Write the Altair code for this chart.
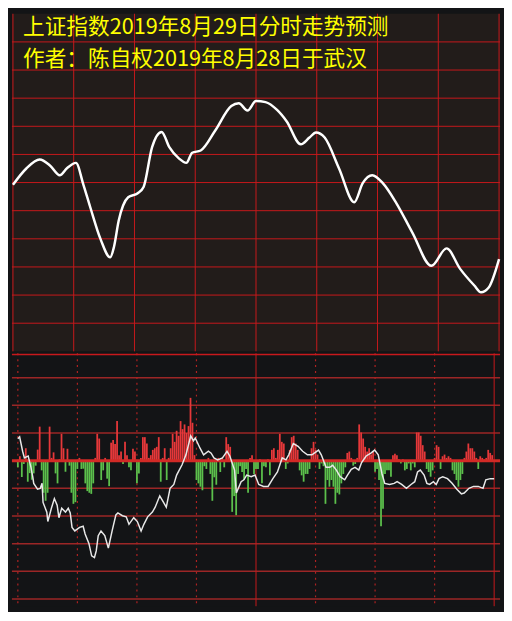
import altair as alt
import pandas as pd

# ---------------- data ----------------
title_lines = ["上证指数2019年8月29日分时走势预测", "作者：陈自权2019年8月28日于武汉"]
title_minute = [5.0]
title_price = [2919.45]

# predicted index path (minute of session, index level)
price_minutes = [0, 6.6, 13.2, 18.4, 23.1, 26.8, 31.1, 34.8, 38.1, 43.3, 48.0, 49.9, 52.2,
                 56.9, 61.6, 64.5, 68.7, 73.4, 77.2, 81.9, 85.6, 88.5, 92.7, 99.8, 107.8,
                 111.5, 115.8, 120.0, 124.7, 130.4, 135.1, 142.1, 146.4, 149.6, 153.9,
                 161.0, 168.5, 172.7, 177.4, 182.6, 189.2, 197.2, 206.6, 214.1, 220.7,
                 227.8, 231.1, 234.8, 240.0]
price_values = [2889.6, 2892.5, 2894.1, 2893.0, 2891.3, 2892.6, 2893.5, 2889.6, 2885.7,
                2879.9, 2876.7, 2878.6, 2883.2, 2887.4, 2888.1, 2889.2, 2896.3, 2899.0,
                2896.3, 2894.3, 2893.5, 2895.3, 2895.7, 2899.2, 2903.6, 2904.1, 2902.8,
                2904.5, 2904.3, 2902.9, 2900.9, 2896.8, 2898.0, 2898.9, 2898.0, 2892.5,
                2886.5, 2889.9, 2891.3, 2889.9, 2886.4, 2881.1, 2875.2, 2878.3, 2874.7,
                2871.7, 2870.5, 2871.3, 2876.4]

# per-minute red/green bars (minute 0..239)
bar_values = [
    -2.4, 1.6, -5.9, -1.2, 4.5, -7.6, -4.5, -6.9, -4.6, -1.8,
    4.0, 12.3, -3.5, -11.6, -14.5, -11.6, 12.3, 1.0, 3.0, -4.6,
    -8.2, 0.5, 9.7, 4.5, -4.0, 4.3, -1.8, -11.6, -15.6, -15.0,
    -3.0, 1.0, -3.0, -2.9, -8.2, -11.0, -11.6, -12.0, -8.2, 1.0,
    9.7, 8.0, -7.0, -3.5, 1.0, -6.5, -9.2, 6.5, 7.5, 6.0,
    14.3, 2.0, 3.3, -1.2, 6.8, 2.0, -2.4, -3.5, 4.3, 3.3,
    -8.2, -4.6, 1.0, 8.5, 8.5, 6.2, 1.0, 2.0, 3.9, 4.5,
    5.0, 8.5, -7.6, 1.0, 4.5, -7.0, 1.0, 4.5, 9.7, 6.8,
    10.8, 9.0, 14.3, 11.4, 13.1, 10.0, 12.5, 22.7, 13.7, 2.0,
    -7.0, -8.2, -9.4, -10.7, -2.0, -3.0, 1.0, -4.8, -14.5, -6.0,
    -8.7, 1.0, -4.1, 1.0, -2.4, 8.5, 6.0, 5.0, -18.5, -12.8,
    -19.7, -4.8, -2.0, -4.1, -7.0, -3.0, -11.6, 1.0, 2.0, -4.8,
    -3.0, -3.0, 0.5, -8.2, -2.0, -2.4, 0.5, -5.3, 3.9, 4.5,
    1.0, 3.9, 9.7, 6.8, 6.2, -3.0, -1.0, 3.9, 8.5, 9.0,
    6.2, 3.9, -3.5, -5.3, -7.6, -4.8, -4.8, -3.0, 4.5, 6.8,
    3.9, 2.2, -3.0, -1.0, -2.0, -15.6, -7.0, -9.4, -7.0, -9.4,
    -15.6, -11.6, -12.2, -8.2, -4.8, -2.4, 2.8, 3.3, 1.0, -1.8,
    -1.2, 1.0, 13.1, 10.2, 8.0, 5.0, 3.3, 4.5, 2.2, 3.3,
    -4.0, -3.0, -7.0, -23.7, -17.4, -4.8, -3.5, -3.5, -5.8, 2.0,
    2.5, 2.0, 0.5, -1.0, 0.5, -3.5, -3.0, -1.0, -3.5, -1.0,
    -2.4, 10.2, 10.2, 9.0, 5.6, 3.3, -3.0, -4.1, -5.8, -3.5,
    1.0, 5.6, 5.0, -3.0, 1.6, 2.2, 1.0, 1.6, 1.0, -3.5,
    -4.8, -7.0, -9.4, -7.0, -4.8, 1.0, 3.3, 6.2, 4.5, 4.5,
    3.3, 1.0, -3.0, 1.6, 1.0, 0.5, 1.0, 3.9, 2.8, 2.0,
]
bar_minutes = list(range(len(bar_values)))

# white line of the lower panel
flow_minutes = [0, 0.9, 2.4, 3.3, 5.2, 6.6, 7.5, 8.0, 9.9, 11.3, 12.2, 12.7, 14.6, 15.1,
                16.9, 18.4, 19.8, 20.7, 22.1, 24.0, 25.4, 26.4, 27.3, 28.7, 31.1, 32.9,
                33.9, 35.8, 37.2, 38.6, 39.5, 40.5, 41.9, 43.8, 45.6, 47.5, 49.4, 50.4,
                52.7, 54.6, 56.0, 58.4, 60.2, 62.1, 63.5, 65.4, 67.8, 69.2, 71.5, 72.9,
                74.8, 76.7, 78.6, 80.0, 82.8, 84.7, 87.1, 88.5, 89.4, 91.8, 93.6, 96.0,
                97.4, 98.8, 100.7, 103.1, 105.4, 106.8, 109.2, 110.1, 112.5, 113.9, 115.3,
                117.6, 119.5, 121.4, 123.8, 126.1, 128.5, 130.8, 133.2, 135.1, 136.5,
                138.8, 141.2, 143.5, 145.9, 148.2, 151.5, 152.9, 155.3, 157.2, 158.6,
                160.5, 162.4, 164.7, 166.1, 168.0, 169.9, 171.8, 173.2, 175.5, 177.9,
                179.8, 181.6, 183.5, 184.9, 187.3, 189.6, 191.1, 193.4, 195.8, 198.1,
                200.0, 201.4, 202.8, 204.7, 206.1, 207.5, 209.4, 210.8, 212.2, 214.1,
                216.5, 218.8, 221.2, 223.5, 224.9, 227.3, 229.6, 232.0, 234.4, 235.8,
                238.1, 240.0]
flow_values = [7.9, 8.6, 3.4, 1.0, 1.7, -2.4, -5.8, -8.2, -10.3, -10.0, -8.2, -15.1, -18.6,
               -22.0, -17.2, -13.7, -16.1, -20.6, -17.2, -18.6, -17.2, -18.9, -24.1, -25.4,
               -24.1, -23.7, -26.5, -29.9, -34.4, -35.0, -32.6, -27.1, -25.4, -27.1, -31.6,
               -25.4, -19.6, -18.9, -19.9, -20.3, -23.0, -20.6, -22.0, -25.4, -23.0, -20.3,
               -18.6, -16.8, -12.7, -14.4, -16.8, -10.0, -8.6, -5.2, -1.4, 2.1, 8.9, 7.2,
               8.2, 4.5, 2.1, 3.4, 2.7, 1.0, 0.3, 1.0, 3.4, 1.7, -3.4, -11.7, -7.6, -6.9,
               -5.2, -5.8, -5.2, -8.6, -9.3, -9.3, -6.5, -4.1, 1.0, 0.3, 2.1, 6.2, 5.2,
               3.4, 2.1, 2.1, 3.8, 2.1, -2.4, -2.4, -1.7, -3.4, -5.8, -6.9, -5.2, -3.1,
               -2.4, -3.4, -0.7, 1.7, 2.7, 3.8, 2.1, -4.8, -8.2, -8.6, -8.2, -7.6, -8.6,
               -10.0, -8.6, -7.6, -4.1, -3.4, -5.2, -8.2, -8.6, -7.6, -8.6, -6.5, -5.8,
               -6.5, -8.2, -10.3, -12.0, -11.7, -10.0, -9.3, -9.3, -10.0, -6.9, -6.5, -6.5]

# grid values
time_grid = [0, 30, 60, 90, 120, 150, 180, 210, 240]
time_grid_dotted = [0, 30, 60, 90, 150, 180, 210]
time_grid_solid = [120, 240]
price_grid = [2865, 2870, 2875, 2880, 2885, 2890, 2895, 2900, 2905, 2910, 2915]
flow_grid = [30, 20, 10, -10, -20, -30, -40, -50]
flow_top = [38.4]
flow_zero = [0]

# ---------------- style ----------------
W = 496
TOP_H = 343
BOT_H = 257
TOP_BG = "#221c1a"
BOT_BG = "#131416"
GRID_RED = "#c8181c"
DIM_RED = "#9c2626"
BAR_RED = "#e6383a"
BAR_GREEN = "#5cc04c"

x_scale = alt.Scale(domain=[-0.5, 240.5], nice=False, zero=False)
p_scale = alt.Scale(domain=[2860, 2920], nice=False, zero=False)
f_scale = alt.Scale(domain=[-52.6, 38.8], nice=False, zero=False)

# ---------------- top panel ----------------
price_df = pd.DataFrame({"m": price_minutes, "p": price_values})
title_df = pd.DataFrame({"m": title_minute, "p": title_price,
                         "t": ["\n".join(title_lines)]})

top_hgrid = alt.Chart(pd.DataFrame({"p": price_grid})).mark_rule(
    color=GRID_RED, strokeWidth=1).encode(y=alt.Y("p:Q", scale=p_scale, axis=None))
top_vgrid = alt.Chart(pd.DataFrame({"m": time_grid})).mark_rule(
    color=GRID_RED, strokeWidth=1).encode(x=alt.X("m:Q", scale=x_scale, axis=None))
top_line = alt.Chart(price_df).mark_line(
    color="white", strokeWidth=2.5, interpolate="monotone").encode(
    x=alt.X("m:Q", scale=x_scale, axis=None),
    y=alt.Y("p:Q", scale=p_scale, axis=None))
top_text = alt.Chart(title_df).mark_text(
    align="left", baseline="top", font="Noto Sans CJK SC", fontSize=22,
    lineBreak="\n", lineHeight=32.5, color="#ffff00").encode(
    x=alt.X("m:Q", scale=x_scale, axis=None),
    y=alt.Y("p:Q", scale=p_scale, axis=None),
    text="t:N")

top = alt.layer(top_hgrid, top_vgrid, top_line, top_text).properties(
    width=W, height=TOP_H, view=alt.ViewBackground(fill=TOP_BG, stroke=None))

# ---------------- bottom panel ----------------
bar_df = pd.DataFrame({"m": bar_minutes, "v": bar_values})
bar_df["dir"] = ["up" if v > 0 else "down" for v in bar_values]
flow_df = pd.DataFrame({"m": flow_minutes, "v": flow_values})

bot_hgrid = alt.Chart(pd.DataFrame({"v": flow_grid})).mark_rule(
    color=DIM_RED, strokeWidth=1.5).encode(y=alt.Y("v:Q", scale=f_scale, axis=None))
bot_top = alt.Chart(pd.DataFrame({"v": flow_top})).mark_rule(
    color=GRID_RED, strokeWidth=1.5).encode(y=alt.Y("v:Q", scale=f_scale, axis=None))
bot_vdot = alt.Chart(pd.DataFrame({"m": time_grid_dotted})).mark_rule(
    color="#b02222", strokeWidth=1.2, strokeDash=[2, 4]).encode(
    x=alt.X("m:Q", scale=x_scale, axis=None))
bot_vsolid = alt.Chart(pd.DataFrame({"m": time_grid_solid})).mark_rule(
    color=GRID_RED, strokeWidth=1).encode(x=alt.X("m:Q", scale=x_scale, axis=None))
bars = alt.Chart(bar_df).mark_bar(size=1.8).encode(
    x=alt.X("m:Q", scale=x_scale, axis=None),
    y=alt.Y("v:Q", scale=f_scale, axis=None),
    y2=alt.datum(0),
    color=alt.Color("dir:N", scale=alt.Scale(domain=["up", "down"],
                                             range=[BAR_RED, BAR_GREEN]), legend=None))
zero_line = alt.Chart(pd.DataFrame({"v": flow_zero})).mark_rule(
    color="#d22a26", strokeWidth=3).encode(y=alt.Y("v:Q", scale=f_scale, axis=None))
flow_line = alt.Chart(flow_df).mark_line(color="#e8e8e8", strokeWidth=1.5).encode(
    x=alt.X("m:Q", scale=x_scale, axis=None),
    y=alt.Y("v:Q", scale=f_scale, axis=None))

bottom = alt.layer(bot_hgrid, bot_vdot, bot_vsolid, bot_top, bars, zero_line,
                   flow_line).properties(
    width=W, height=BOT_H, view=alt.ViewBackground(fill=BOT_BG, stroke=None))

chart = alt.vconcat(top, bottom, spacing=0).properties(
    padding=0, background=BOT_BG).configure_view(stroke=None)

chart.save("out.html", embed_options={"renderer": "svg", "actions": False})
